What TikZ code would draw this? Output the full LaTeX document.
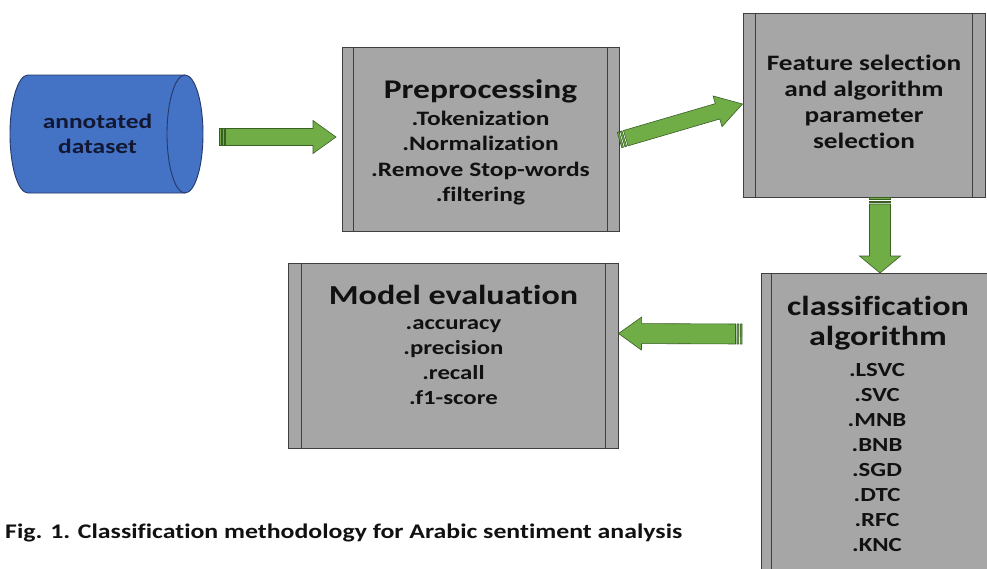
\documentclass[tikz,border=0pt]{standalone}
\usepackage{fontspec}
\newfontfamily\cfont{Carlito}[FakeStretch=1.24,Ligatures={NoCommon}]
\usetikzlibrary{calc}
\definecolor{boxgray}{HTML}{A6A6A6}
\definecolor{boxline}{HTML}{3F3F3F}
\definecolor{cylblue}{HTML}{4472C4}
\definecolor{cylline}{HTML}{24386A}
\definecolor{argreen}{HTML}{70AD47}
\definecolor{arline}{HTML}{3A5F25}
\definecolor{txt}{HTML}{111111}
\definecolor{navy}{HTML}{121833}
\tikzset{
  procbox/.style={draw=boxline, fill=boxgray, line width=1pt, rectangle, inner sep=0pt},
  lbl/.style={anchor=base, inner sep=0pt, text=txt, font=\cfont\bfseries\fontsize{#1}{#1}\selectfont},
  blkarr/.style={draw=arline, fill=argreen, line width=0.6pt, line join=miter},
  barline/.style={draw=boxline, line width=1pt},
  cylsty/.style={draw=cylline, fill=cylblue, line width=0.9pt},
}
\newcommand\sidebars[2]{%
  \draw[barline] ([xshift=#2pt]#1.north west) -- ([xshift=#2pt]#1.south west);
  \draw[barline] ([xshift=-#2pt]#1.north east) -- ([xshift=-#2pt]#1.south east);}
\newcommand\blkarrow[5]{%
  \pgfpointdiff{\pgfpointanchor{#1}{center}}{\pgfpointanchor{#2}{center}}%
  \pgfgetlastxy{\arDx}{\arDy}%
  \pgfmathsetmacro\arLen{veclen(\arDx,\arDy)}%
  \pgfmathsetmacro\arAng{atan2(\arDy,\arDx)}%
  \begin{scope}[shift={(#1)},rotate=\arAng]
    \filldraw[blkarr] (0pt,-#3pt) rectangle (1.8pt,#3pt);
    \filldraw[blkarr] (3.3pt,-#3pt) rectangle (5pt,#3pt);
    \filldraw[blkarr] (6.5pt,-#3pt) -- ({\arLen pt-#5pt},-#3pt) -- ({\arLen pt-#5pt},-#4pt)
      -- (\arLen pt,0pt) -- ({\arLen pt-#5pt},#4pt) -- ({\arLen pt-#5pt},#3pt) -- (6.5pt,#3pt) -- cycle;
  \end{scope}}
\begin{document}
\begin{tikzpicture}[x=1pt,y=-1pt]
\useasboundingbox (0,0) rectangle (987,568);
\fill[white] (0,0) rectangle (987,568);
\clip (0,0) rectangle (987,568);

% annotated dataset cylinder
\draw[cylsty] (28,75) -- (185,75) arc[start angle=90,end angle=-90,x radius=18pt,y radius=59pt]
  -- (28,193) arc[start angle=270,end angle=90,x radius=18pt,y radius=59pt] -- cycle;
\draw[draw=cylline, line width=0.9pt] (185,75) arc[start angle=90,end angle=270,x radius=18pt,y radius=59pt];
\node[lbl=20.5, text=navy] (ds1) at (97.5,128) {annotated};
\node[lbl=20.5, text=navy] (ds2) at (97.5,153) {dataset};

% boxes
\node[procbox, minimum width=277pt, minimum height=184pt] (pre) at (480.5,139) {};
\sidebars{pre}{12}
\node[procbox, minimum width=242pt, minimum height=184pt] (feat) at (864,105) {};
\sidebars{feat}{13}
\node[procbox, minimum width=330pt, minimum height=185pt] (model) at (453,355.5) {};
\sidebars{model}{13.5}
\node[procbox, minimum width=260pt, minimum height=330pt] (cls) at (891,438) {};
\draw[barline] ([xshift=11pt]cls.north west) -- ([xshift=11pt]cls.south west);

% texts
\node[lbl=27] (preT) at (480.5,98) {Preprocessing};
\foreach \t [count=\i] in {.Tokenization,.Normalization,.Remove Stop-words,.filtering}
  \node[lbl=20.5] (pre\i) at (480.5,{125+25.5*(\i-1)}) {\t};

\foreach \t [count=\i] in {Feature selection,and algorithm,parameter,selection}
  \node[lbl=22] (feat\i) at (864,{70+26*(\i-1)}) {\t};

\node[lbl=27.5] (modelT) at (453.5,304) {Model evaluation};
\foreach \t [count=\i] in {.accuracy,.precision,.recall,.f1-score}
  \node[lbl=20] (model\i) at (453.5,{329+25*(\i-1)}) {\t};

\node[lbl=27.5] (clsT1) at (878,315) {classification};
\node[lbl=27.5] (clsT2) at (878,345) {algorithm};
\foreach \t [count=\i] in {.LSVC,.SVC,.MNB,.BNB,.SGD,.DTC,.RFC,.KNC}
  \node[lbl=20] (cls\i) at (877,{376.7+25*(\i-1)}) {\t};

% arrows
\coordinate (a1s) at (219,137);
\coordinate (a1e) at (336,137);
\blkarrow{a1s}{a1e}{8.5}{16.5}{23}
\coordinate (a2s) at ([yshift=-1pt]pre.east);
\coordinate (a2e) at ([yshift=1pt]feat.west);
\blkarrow{a2s}{a2e}{8}{16}{26}
\coordinate (a3s) at ([xshift=16pt]feat.south);
\coordinate (a3e) at (880,273);
\blkarrow{a3s}{a3e}{10.5}{20.5}{17}
\coordinate (a4s) at (742,334);
\coordinate (a4e) at ([yshift=22pt]model.east);
\blkarrow{a4s}{a4e}{10}{16.5}{23}

% caption
\node[lbl=20.8, anchor=base west] (cap) at (5,538) {Fig. 1. Classification methodology for Arabic sentiment analysis};
\end{tikzpicture}
\end{document}
